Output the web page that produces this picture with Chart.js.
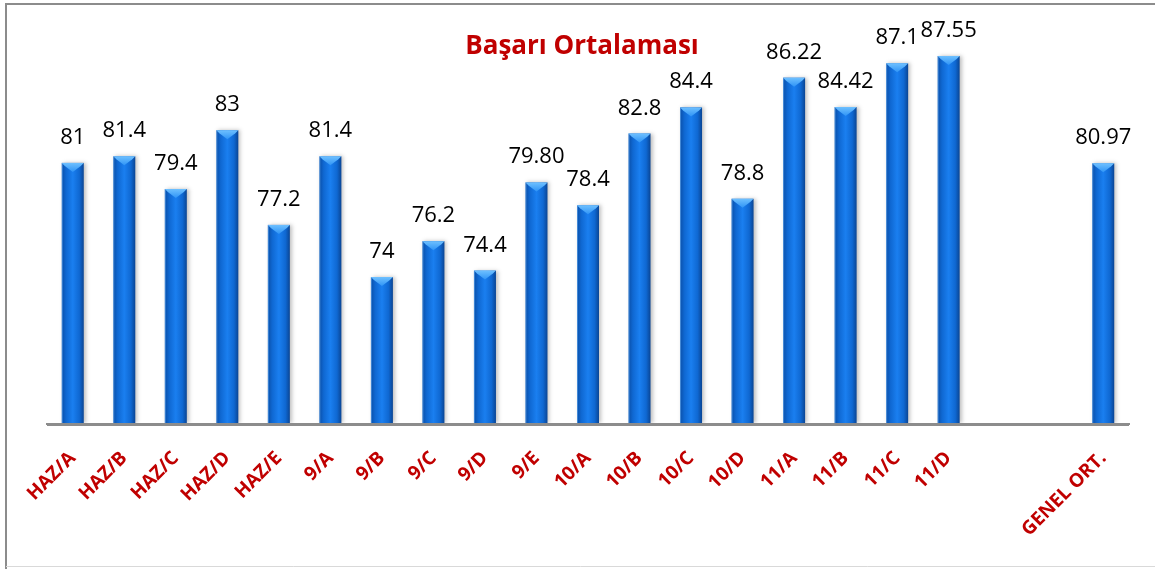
<!DOCTYPE html>
<html>
<head>
<meta charset="utf-8">
<script src="https://cdn.jsdelivr.net/npm/chart.js@4/dist/chart.umd.min.js"></script>
<style>
  html, body { margin: 0; padding: 0; background: #ffffff; }
  #wrap { width: 1155px; height: 569px; position: relative; }
</style>
</head>
<body>
<div id="wrap"><canvas id="c" width="1155" height="569"></canvas></div>
<script>
const categories = ['HAZ/A', 'HAZ/B', 'HAZ/C', 'HAZ/D', 'HAZ/E', '9/A', '9/B', '9/C', '9/D', '9/E',
  '10/A', '10/B', '10/C', '10/D', '11/A', '11/B', '11/C', '11/D', '', '', 'GENEL ORT.'];
const values = [81, 81.4, 79.4, 83, 77.2, 81.4, 74, 76.2, 74.4, 79.8,
  78.4, 82.8, 84.4, 78.8, 86.22, 84.42, 87.1, 87.55, null, null, 80.97];
const valueLabels = ['81', '81.4', '79.4', '83', '77.2', '81.4', '74', '76.2', '74.4', '79.80',
  '78.4', '82.8', '84.4', '78.8', '86.22', '84.42', '87.1', '87.55', '', '', '80.97'];
const titleText = 'Başarı Ortalaması';
const yMin = 65;
const yMax = 90;

const RED = '#C00000';

const framePlugin = {
  id: 'frame',
  beforeDraw(chart) {
    const ctx = chart.ctx;
    ctx.save();
    ctx.fillStyle = '#ffffff';
    ctx.fillRect(0, 0, chart.width, chart.height);
    ctx.strokeStyle = '#8c8c8c';
    ctx.lineWidth = 2;
    ctx.beginPath();
    ctx.moveTo(6, chart.height);
    ctx.lineTo(6, 4);
    ctx.lineTo(chart.width, 4);
    ctx.stroke();
    ctx.strokeStyle = '#d9d9d9';
    ctx.lineWidth = 1;
    ctx.beginPath();
    ctx.moveTo(6, chart.height - 2.5);
    ctx.lineTo(chart.width, chart.height - 2.5);
    ctx.stroke();
    ctx.restore();
  }
};

const barPlugin = {
  id: 'bars3d',
  afterDatasetsDraw(chart) {
    const ctx = chart.ctx;
    const ca = chart.chartArea;
    const meta = chart.getDatasetMeta(0);
    meta.data.forEach((bar, i) => {
      if (values[i] === null || values[i] === undefined) return;
      const p = bar.getProps(['x', 'y', 'base', 'width'], true);
      const x0 = p.x - p.width / 2, x1 = p.x + p.width / 2;
      const top = p.y, bottom = Math.min(p.base, ca.bottom - 1);
      ctx.save();
      ctx.beginPath();
      ctx.rect(ca.left - 10, ca.top - 20, ca.right - ca.left + 20, ca.bottom - ca.top + 19);
      ctx.clip();
      ctx.shadowColor = 'rgba(0,0,0,0.25)';
      ctx.shadowBlur = 4;
      ctx.shadowOffsetX = 2;
      ctx.shadowOffsetY = 0;
      const g = ctx.createLinearGradient(x0, 0, x1, 0);
      g.addColorStop(0, '#0a4fa8');
      g.addColorStop(0.2, '#0f68d2');
      g.addColorStop(0.5, '#1a7ff0');
      g.addColorStop(0.8, '#0f68d2');
      g.addColorStop(1, '#0a4594');
      ctx.fillStyle = g;
      ctx.fillRect(x0, top, x1 - x0, bottom - top);
      ctx.restore();
      // top bevel
      ctx.save();
      const bev = 3;
      ctx.beginPath();
      ctx.moveTo(x0, top);
      ctx.lineTo(x1, top);
      ctx.lineTo(x1 - bev, top + bev);
      ctx.lineTo(p.x, top + 9);
      ctx.lineTo(x0 + bev, top + bev);
      ctx.closePath();
      const gt = ctx.createLinearGradient(0, top, 0, top + 9);
      gt.addColorStop(0, '#6ec0ff');
      gt.addColorStop(1, '#2f94f6');
      ctx.fillStyle = gt;
      ctx.fill();
      ctx.strokeStyle = 'rgba(120,190,255,0.5)';
      ctx.lineWidth = 1;
      ctx.beginPath();
      ctx.moveTo(x0 + 0.5, top);
      ctx.lineTo(x0 + 0.5, bottom);
      ctx.stroke();
      ctx.restore();
    });
    ctx.save();
    ctx.strokeStyle = '#8c8c8c';
    ctx.lineWidth = 2;
    ctx.beginPath();
    ctx.moveTo(ca.left, ca.bottom + 1);
    ctx.lineTo(ca.right, ca.bottom + 1);
    ctx.stroke();
    ctx.restore();
  },
  afterDraw(chart) {
    const ctx = chart.ctx;
    const meta = chart.getDatasetMeta(0);
    ctx.save();
    ctx.fillStyle = '#000000';
    ctx.font = '22px "Open Sans", sans-serif';
    ctx.textAlign = 'center';
    ctx.textBaseline = 'alphabetic';
    meta.data.forEach((bar, i) => {
      if (values[i] === null || values[i] === undefined) return;
      const p = bar.getProps(['x', 'y'], true);
      ctx.fillText(valueLabels[i], p.x, p.y - 19);
    });
    const ca = chart.chartArea;
    ctx.fillStyle = RED;
    ctx.font = 'bold 26px "Open Sans", sans-serif';
    ctx.fillText(titleText, (ca.left + ca.right) / 2 - 6, 54);
    ctx.restore();
  }
};

new Chart(document.getElementById('c'), {
  type: 'bar',
  data: {
    labels: categories,
    datasets: [{
      data: values,
      backgroundColor: 'rgba(0,0,0,0)',
      borderWidth: 0,
      barThickness: 22
    }]
  },
  options: {
    responsive: false,
    animation: false,
    events: [],
    layout: { padding: { left: 47, right: 26, top: 16, bottom: 0 } },
    plugins: { legend: { display: false }, tooltip: { enabled: false }, title: { display: false } },
    scales: {
      x: {
        grid: { display: false },
        border: { display: true, color: '#8c8c8c', width: 2 },
        ticks: {
          color: RED,
          font: { family: 'Open Sans', weight: 'bold', size: 19 },
          minRotation: 45,
          maxRotation: 45,
          autoSkip: false,
          padding: 15
        },
        afterFit(s) { s.height = 145; }
      },
      y: {
        display: false,
        min: yMin,
        max: yMax
      }
    }
  },
  plugins: [framePlugin, barPlugin]
});
</script>
</body>
</html>
